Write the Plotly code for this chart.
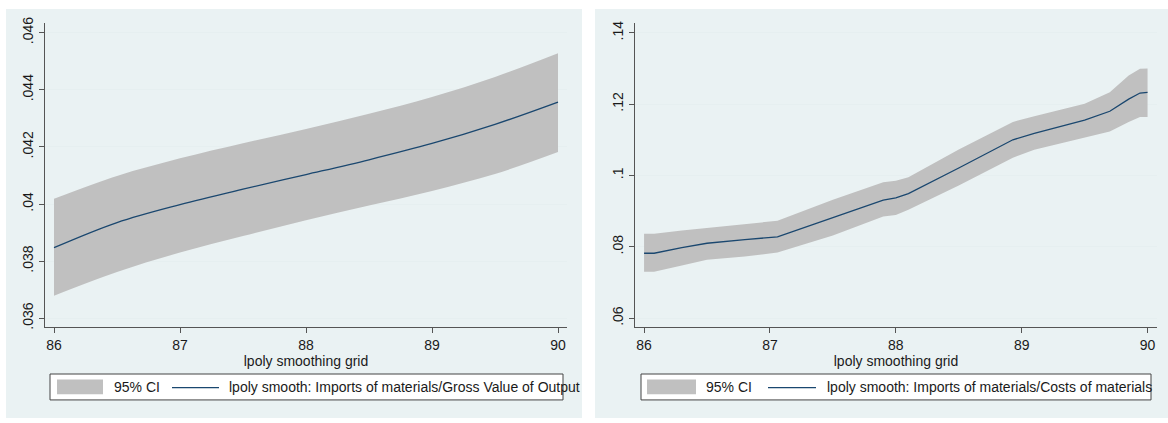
import plotly.graph_objects as go

W, H = 1168, 423

# ---------------- data ----------------
# Left panel: Imports of materials / Gross Value of Output
left_x = [86.0, 86.5, 87.0, 87.5, 88.0, 88.5, 89.0, 89.5, 90.0]
left_fit = [0.03847, 0.03935, 0.03998, 0.04052, 0.04103, 0.04155, 0.04212, 0.04279, 0.04357]
left_upper = [0.04018, 0.04098, 0.04160, 0.04213, 0.04263, 0.04316, 0.04375, 0.04445, 0.04528]
left_lower = [0.03679, 0.03762, 0.03830, 0.03888, 0.03943, 0.03995, 0.04046, 0.04105, 0.04182]

# Right panel: Imports of materials / Costs of materials
right_x = [86.0, 86.08, 86.3, 86.5, 86.8, 87.06, 87.5, 87.9, 88.0, 88.1,
           88.5, 88.93, 89.1, 89.5, 89.7, 89.85, 89.94, 90.0]
right_fit = [0.0782, 0.0782, 0.0798, 0.0810, 0.0820, 0.0828, 0.0882, 0.0931, 0.0937, 0.0949,
             0.1021, 0.1100, 0.1118, 0.1155, 0.1180, 0.1214, 0.1231, 0.1233]
right_upper = [0.0837, 0.0837, 0.0846, 0.0853, 0.0862, 0.0873, 0.0932, 0.0981, 0.0985, 0.0995,
               0.1073, 0.1150, 0.1166, 0.1201, 0.1233, 0.1280, 0.1299, 0.1300]
right_lower = [0.0730, 0.0730, 0.0748, 0.0764, 0.0773, 0.0784, 0.0832, 0.0885, 0.0889, 0.0904,
               0.0972, 0.1050, 0.1072, 0.1105, 0.1123, 0.1150, 0.1164, 0.1164]

x_ticks = [86, 87, 88, 89, 90]
x_ticktext = ["86", "87", "88", "89", "90"]
left_yticks = [0.036, 0.038, 0.040, 0.042, 0.044, 0.046]
left_yticktext = [".036", ".038", ".04", ".042", ".044", ".046"]
right_yticks = [0.06, 0.08, 0.10, 0.12, 0.14]
right_yticktext = [".06", ".08", ".1", ".12", ".14"]

x_title = "lpoly smoothing grid"
ci_label = "95% CI"
left_fit_label = "lpoly smooth: Imports of materials/Gross Value of Output"
right_fit_label = "lpoly smooth: Imports of materials/Costs of materials"

# ---------------- style ----------------
FONT = "Liberation Sans, Arial, sans-serif"
PANEL_BG = "#eaf2f3"
GRID = "#e6eff0"
CI_FILL = "#c0c0c0"
FIT = "#1a476f"
AXIS = "#555555"
TEXT = "#1a1a1a"


def px(x):
    return x / W


def py(y):
    return 1 - y / H


fig = go.Figure()


def add_panel(xs, fit, up, lo, xa, ya, shape):
    fig.add_trace(go.Scatter(x=xs, y=up, mode="lines", line=dict(width=0, color=CI_FILL, shape=shape),
                             xaxis=xa, yaxis=ya, showlegend=False, hoverinfo="skip"))
    fig.add_trace(go.Scatter(x=xs, y=lo, mode="lines", line=dict(width=0, color=CI_FILL, shape=shape),
                             fill="tonexty", fillcolor=CI_FILL,
                             xaxis=xa, yaxis=ya, showlegend=False, hoverinfo="skip"))
    fig.add_trace(go.Scatter(x=xs, y=fit, mode="lines", line=dict(width=1.3, color=FIT, shape=shape),
                             xaxis=xa, yaxis=ya, showlegend=False))


add_panel(left_x, left_fit, left_upper, left_lower, "x", "y", "spline")
add_panel(right_x, right_fit, right_upper, right_lower, "x2", "y2", "linear")

xcommon = dict(tickmode="array", tickvals=x_ticks, ticktext=x_ticktext,
               showline=True, linecolor=AXIS, linewidth=1.2, mirror=False,
               ticks="outside", ticklen=5, tickwidth=1.2, tickcolor=AXIS,
               showgrid=False, zeroline=False,
               tickfont=dict(family=FONT, size=14, color=TEXT),
               title=dict(text=x_title, font=dict(family=FONT, size=14, color=TEXT), standoff=2))
ycommon = dict(tickmode="array", showline=True, linecolor=AXIS, linewidth=1.2,
               ticks="outside", ticklen=5, tickwidth=1.2, tickcolor=AXIS,
               showgrid=True, gridcolor=GRID, gridwidth=1.2, zeroline=False,
               tickangle=-90, tickfont=dict(family=FONT, size=14, color=TEXT))

fig.update_layout(
    width=W, height=H,
    margin=dict(l=0, r=0, t=0, b=0),
    paper_bgcolor="white",
    plot_bgcolor="white",
    showlegend=False,
    font=dict(family=FONT, size=14, color=TEXT),
    xaxis=dict(domain=[px(45), px(567)], range=[85.9286, 90.0714], anchor="y", **xcommon),
    yaxis=dict(domain=[py(328), py(17)], range=[0.035691, 0.046353], anchor="x",
               tickvals=left_yticks, ticktext=left_yticktext, **ycommon),
    xaxis2=dict(domain=[px(635), px(1157)], range=[85.928, 90.075], anchor="y2", **xcommon),
    yaxis2=dict(domain=[py(328), py(17)], range=[0.05753, 0.14283], anchor="x2",
                tickvals=right_yticks, ticktext=right_yticktext, **ycommon),
)

shapes = []
annotations = []
# panel backgrounds
for x0, x1 in [(6, 582), (595, 1168)]:
    shapes.append(dict(type="rect", xref="paper", yref="paper", x0=px(x0), x1=px(x1),
                       y0=py(421), y1=py(3), fillcolor=PANEL_BG, line=dict(width=0), layer="below"))

# legends
legends = [
    dict(box=(50, 563), sw=(57, 103), t1=112, ln=(172, 219), t2=227, label=left_fit_label),
    dict(box=(641, 1151), sw=(647, 696), t1=704, ln=(768, 816), t2=825, label=right_fit_label),
]
for lg in legends:
    shapes.append(dict(type="rect", xref="paper", yref="paper", x0=px(lg["box"][0]), x1=px(lg["box"][1]),
                       y0=py(402.5), y1=py(376), fillcolor="white",
                       line=dict(color="#444444", width=1), layer="below"))
    shapes.append(dict(type="rect", xref="paper", yref="paper", x0=px(lg["sw"][0]), x1=px(lg["sw"][1]),
                       y0=py(396.7), y1=py(381.7), fillcolor=CI_FILL, line=dict(width=0), layer="above"))
    shapes.append(dict(type="line", xref="paper", yref="paper", x0=px(lg["ln"][0]), x1=px(lg["ln"][1]),
                       y0=py(390), y1=py(390), line=dict(color=FIT, width=1.3), layer="above"))
    annotations.append(dict(xref="paper", yref="paper", x=px(lg["t1"]), y=py(389.5), xanchor="left",
                            yanchor="middle", text=ci_label, showarrow=False,
                            font=dict(family=FONT, size=14, color=TEXT)))
    annotations.append(dict(xref="paper", yref="paper", x=px(lg["t2"]), y=py(389.5), xanchor="left",
                            yanchor="middle", text=lg["label"], showarrow=False,
                            font=dict(family=FONT, size=14, color=TEXT)))

fig.update_layout(shapes=shapes, annotations=annotations)

fig.write_html("out.html")
